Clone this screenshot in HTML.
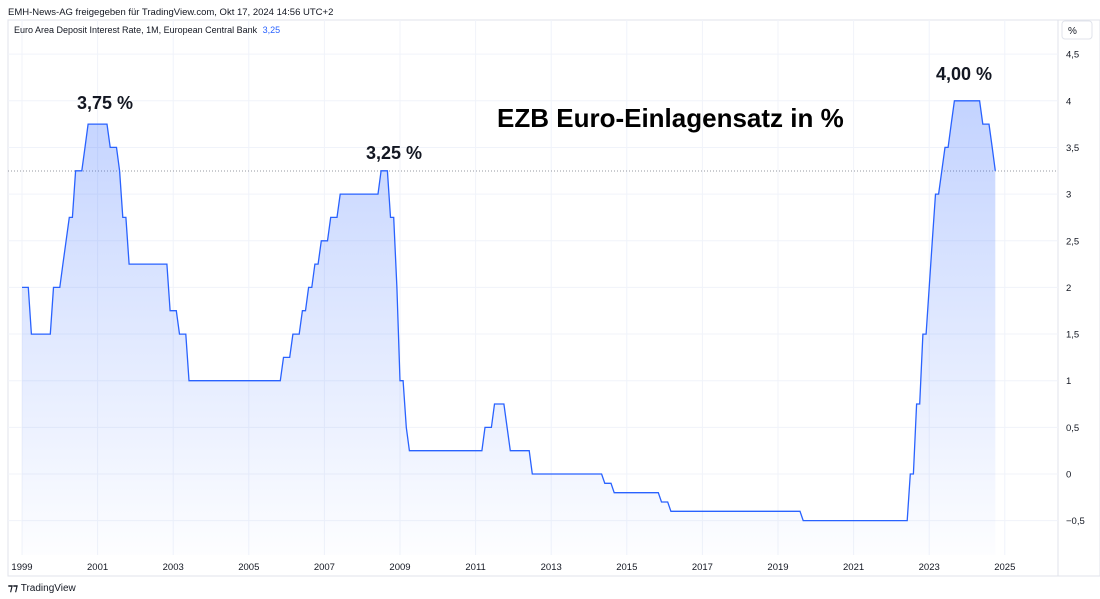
<!DOCTYPE html>
<html><head><meta charset="utf-8"><style>
body{margin:0;background:#fff;font-family:"Liberation Sans",sans-serif;}
svg{display:block}
</style></head><body>
<svg id="s" width="1100" height="599" xmlns="http://www.w3.org/2000/svg" font-family="Liberation Sans, sans-serif">
<defs><linearGradient id="g" x1="0" y1="0" x2="0" y2="1"><stop offset="0" stop-color="#2962ff" stop-opacity="0.28"/><stop offset="1" stop-color="#2962ff" stop-opacity="0.01"/></linearGradient></defs>
<rect x="0" y="0" width="1100" height="599" fill="#fff"/>
<text x="8" y="15" font-size="9.5" fill="#131722">EMH-News-AG freigegeben für TradingView.com, Okt 17, 2024 14:56 UTC+2</text>
<rect x="8" y="20" width="1092" height="556" fill="none" stroke="#e0e3eb"/>
<line x1="1058" y1="20" x2="1058" y2="576" stroke="#e0e3eb"/>
<g id="grid" stroke="#f0f3fa" stroke-width="1"></g>
<line x1="8" y1="171" x2="1058" y2="171" stroke="#9598a1" stroke-dasharray="1,2" stroke-width="1"/>
<path id="area" fill="url(#g)"/>
<path id="line" fill="none" stroke="#2962ff" stroke-width="1.3"/>
<text x="14" y="33" font-size="9" fill="#131722">Euro Area Deposit Interest Rate, 1M, European Central Bank <tspan fill="#2962ff" dx="3">3,25</tspan></text>
<rect x="1062" y="21" width="30" height="18" rx="3" fill="#fff" stroke="#e0e3eb"/>
<text x="1068" y="34" font-size="10" fill="#131722">%</text>
<g id="yl" font-size="9.5" fill="#131722"></g>
<g id="xl" font-size="9.5" fill="#131722" text-anchor="middle"></g>
<text x="105" y="109" font-size="18" font-weight="bold" fill="#131722" text-anchor="middle">3,75 %</text>
<text x="394" y="159" font-size="18" font-weight="bold" fill="#131722" text-anchor="middle">3,25 %</text>
<text x="964" y="80" font-size="18" font-weight="bold" fill="#131722" text-anchor="middle">4,00 %</text>
<text x="497" y="127" font-size="26" font-weight="bold" fill="#000">EZB Euro-Einlagensatz in %</text>
<text x="8" y="591" font-size="10" font-weight="bold" fill="#131722">⁊⁊ <tspan font-weight="normal">TradingView</tspan></text>
</svg>
<script>
const ns="http://www.w3.org/2000/svg";
const Y=v=>474-93.3*v, X=t=>22+37.8*(t-1999);
const grid=document.getElementById('grid'),yl=document.getElementById('yl'),xl=document.getElementById('xl');
function el(p,tag,a,txt){const e=document.createElementNS(ns,tag);for(const k in a)e.setAttribute(k,a[k]);if(txt!=null)e.textContent=txt;p.appendChild(e);}
for(let v=-0.5;v<=4.5;v+=0.5){el(grid,'line',{x1:8,x2:1058,y1:Y(v),y2:Y(v)});el(yl,'text',{x:1066,y:Y(v)+3.5},(v<0?'−':'')+String(Math.abs(v)).replace('.',','));}
for(let yr=1999;yr<=2025;yr+=2){el(grid,'line',{x1:X(yr),x2:X(yr),y1:20,y2:555});el(xl,'text',{x:X(yr),y:570},yr);}
const ev=[[1999,1,2],[1999,4,1.5],[1999,11,2],[2000,2,2.25],[2000,3,2.5],[2000,4,2.75],[2000,6,3.25],[2000,9,3.5],[2000,10,3.75],[2001,5,3.5],[2001,8,3.25],[2001,9,2.75],[2001,11,2.25],[2002,12,1.75],[2003,3,1.5],[2003,6,1],[2005,12,1.25],[2006,3,1.5],[2006,6,1.75],[2006,8,2],[2006,10,2.25],[2006,12,2.5],[2007,3,2.75],[2007,6,3],[2008,7,3.25],[2008,10,2.75],[2008,12,2],[2009,1,1],[2009,3,0.5],[2009,4,0.25],[2011,4,0.5],[2011,7,0.75],[2011,11,0.5],[2011,12,0.25],[2012,7,0],[2014,6,-0.1],[2014,9,-0.2],[2015,12,-0.3],[2016,3,-0.4],[2019,9,-0.5],[2022,7,0],[2022,9,0.75],[2022,11,1.5],[2023,1,2],[2023,2,2.5],[2023,3,3],[2023,5,3.25],[2023,6,3.5],[2023,8,3.75],[2023,9,4],[2024,6,3.75],[2024,9,3.5],[2024,10,3.25]];
let pts=[],v=2,i=0;
for(let yr=1999;yr<=2024;yr++)for(let m=1;m<=12;m++){if(yr==2024&&m>10)break;while(i<ev.length&&ev[i][0]==yr&&ev[i][1]==m){v=ev[i][2];i++;}pts.push([X(yr+(m-1)/12),Y(v)]);}
const d=pts.map((p,k)=>(k?'L':'M')+p[0].toFixed(1)+' '+p[1].toFixed(1)).join(' ');
document.getElementById('line').setAttribute('d',d);
document.getElementById('area').setAttribute('d',d+` L${pts[pts.length-1][0]} 555 L${pts[0][0]} 555 Z`);
</script>
</body></html>
